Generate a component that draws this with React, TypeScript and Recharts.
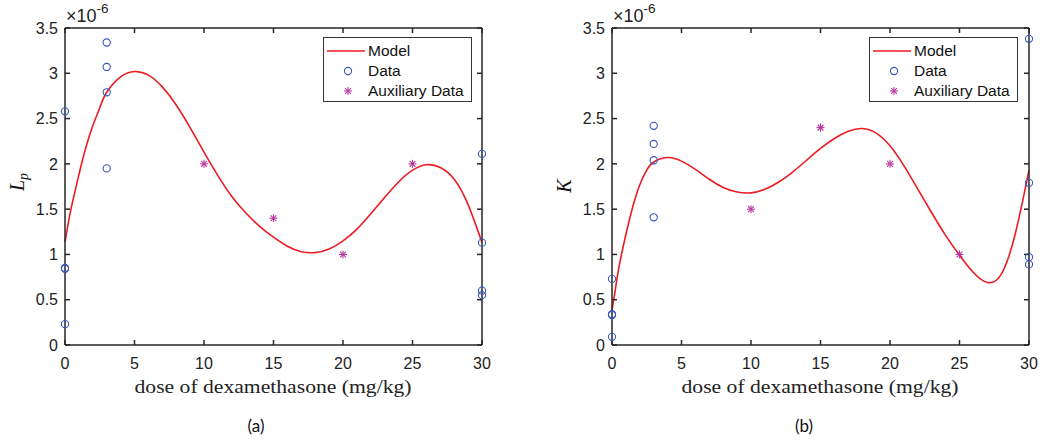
import React from 'react'
import { ComposedChart, Line, Scatter, XAxis, YAxis, Legend } from 'recharts'

// model curves (values in units of 1e-6)
const modelDose = [0, 0.25, 0.5, 1, 1.5, 2, 2.5, 3, 4, 5, 6, 7, 8, 9, 10, 11, 12, 13, 14, 15, 16, 17, 18, 19, 20, 21, 22, 23, 24, 25, 26, 27, 28, 29, 30]
const lpModel = [1.14, 1.36, 1.55, 1.88, 2.18, 2.42, 2.62, 2.79, 2.96, 3.02, 2.98, 2.85, 2.65, 2.4, 2.13, 1.87, 1.64, 1.46, 1.31, 1.19, 1.09, 1.03, 1.02, 1.06, 1.15, 1.28, 1.45, 1.63, 1.8, 1.93, 1.99, 1.96, 1.83, 1.55, 1.13]
const kModel = [0.39, 0.62, 0.86, 1.22, 1.53, 1.77, 1.93, 2.02, 2.07, 2.03, 1.94, 1.83, 1.74, 1.69, 1.68, 1.72, 1.8, 1.91, 2.04, 2.17, 2.28, 2.36, 2.39, 2.34, 2.2, 1.98, 1.72, 1.46, 1.21, 0.99, 0.8, 0.69, 0.78, 1.22, 1.93]

// measured data
const dataDose = [0, 0, 0, 0, 3, 3, 3, 3, 30, 30, 30, 30]
const lpData = [2.58, 0.85, 0.84, 0.23, 3.34, 3.07, 2.79, 1.95, 2.11, 1.13, 0.6, 0.55]
const kData = [0.73, 0.34, 0.33, 0.09, 2.42, 2.22, 2.04, 1.41, 3.38, 1.79, 0.97, 0.89]

// auxiliary data
const auxDose = [10, 15, 20, 25]
const lpAux = [2.0, 1.4, 1.0, 2.0]
const kAux = [1.5, 2.4, 2.0, 1.0]

const xTicks = [0, 5, 10, 15, 20, 25, 30]
const yTicks = [0, 0.5, 1, 1.5, 2, 2.5, 3, 3.5]

const RED = '#ec1c24'
const BLUE = '#3656b8'
const MAGENTA = '#b8369f'
const AXIS = '#262626'
const SANS = '"Liberation Sans", Arial, sans-serif'
const SERIF = '"Liberation Serif", "Times New Roman", serif'

const zip = (xs: number[], ys: number[]) => xs.map((x, i) => ({ x, y: ys[i] }))

const Circle = (p: any) => <circle cx={p.cx} cy={p.cy} r={3.6} fill="none" stroke={BLUE} strokeWidth={1.1} />

const Star = (p: any) => {
  const r = 4
  const d = r * 0.72
  return (
    <g stroke={MAGENTA} strokeWidth={1.1}>
      <line x1={p.cx - r} y1={p.cy} x2={p.cx + r} y2={p.cy} />
      <line x1={p.cx} y1={p.cy - r} x2={p.cx} y2={p.cy + r} />
      <line x1={p.cx - d} y1={p.cy - d} x2={p.cx + d} y2={p.cy + d} />
      <line x1={p.cx - d} y1={p.cy + d} x2={p.cx + d} y2={p.cy - d} />
    </g>
  )
}

const LegendBox = () => (
  <div style={{ width: 147, height: 63, border: '1px solid #333', background: '#fff', fontFamily: SANS, fontSize: 15.5, color: '#111', position: 'relative' }}>
    {['Model', 'Data', 'Auxiliary Data'].map((name, i) => (
      <div key={name} style={{ position: 'absolute', left: 0, top: 3 + i * 20, height: 20, display: 'flex', alignItems: 'center' }}>
        <svg width={44} height={20}>
          {i === 0 && <line x1={3} y1={10} x2={41} y2={10} stroke={RED} strokeWidth={1.6} />}
          {i === 1 && <Circle cx={24} cy={10} />}
          {i === 2 && <Star cx={24} cy={10} />}
        </svg>
        <span>{name}</span>
      </div>
    ))}
  </div>
)

const tickStyle = { fontFamily: SANS, fontSize: 16, fill: '#222' }
const lineStyle = { stroke: AXIS, strokeWidth: 1.5 }
const noLabel = () => ''

function Panel({ left, model, data, aux, legendLeft }: { left: number; model: number[]; data: number[]; aux: number[]; legendLeft: number }) {
  return (
    <div style={{ position: 'absolute', left, top: 0 }}>
      <ComposedChart width={503} height={445} margin={{ top: 8, right: 1, left: 15, bottom: 60 }}>
        <XAxis xAxisId="bottom" orientation="bottom" type="number" dataKey="x" domain={[0, 30]} ticks={xTicks} height={40}
          tick={tickStyle} tickSize={-5} tickMargin={18} stroke={AXIS} axisLine={lineStyle} tickLine={lineStyle} />
        <XAxis xAxisId="top" orientation="top" type="number" dataKey="x" domain={[0, 30]} ticks={xTicks} height={20}
          tickSize={-5} tickFormatter={noLabel} stroke={AXIS} axisLine={lineStyle} tickLine={lineStyle} />
        <YAxis yAxisId="left" orientation="left" type="number" domain={[0, 3.5]} ticks={yTicks} width={50}
          tick={tickStyle} tickSize={-5} tickMargin={12} stroke={AXIS} axisLine={lineStyle} tickLine={lineStyle} />
        <YAxis yAxisId="right" orientation="right" type="number" domain={[0, 3.5]} ticks={yTicks} width={20}
          tickSize={-5} tickFormatter={noLabel} stroke={AXIS} axisLine={lineStyle} tickLine={lineStyle} />
        <Line xAxisId="bottom" yAxisId="left" data={zip(modelDose, model)} dataKey="y" type="natural" stroke={RED}
          strokeWidth={1.6} dot={false} isAnimationActive={false} name="Model" />
        <Scatter xAxisId="top" yAxisId="right" data={zip(dataDose, data)} dataKey="y" shape={Circle}
          isAnimationActive={false} name="Data" />
        <Scatter xAxisId="top" yAxisId="left" data={zip(auxDose, aux)} dataKey="y" shape={Star}
          isAnimationActive={false} name="Auxiliary Data" />
        <Legend layout="vertical" align="center" verticalAlign="middle" content={LegendBox}
          wrapperStyle={{ left: legendLeft, top: 37, width: 149, height: 65 }} />
      </ComposedChart>
    </div>
  )
}

export default function App() {
  return (
    <div style={{ position: 'absolute', left: 0, top: 0, width: 1049, height: 445, background: '#fff', overflow: 'hidden' }}>
      <Panel left={0} model={lpModel} data={lpData} aux={lpAux} legendLeft={323} />
      <Panel left={547} model={kModel} data={kData} aux={kAux} legendLeft={869 - 547} />
      <svg width={1049} height={445} style={{ position: 'absolute', left: 0, top: 0, pointerEvents: 'none' }}>
        {[65, 612].map((x0) => (
          <text key={x0} x={x0 + 1} y={22} fontFamily={SANS} fontSize={18} fill="#222">
            ×10<tspan dy={-9} fontSize={13.5}>-6</tspan>
          </text>
        ))}
        <text transform="translate(24,182) rotate(-90)" textAnchor="middle" fontFamily={SERIF} fontStyle="italic" fontSize={20} fill="#111">
          L<tspan dy={4} fontSize={14}>p</tspan>
        </text>
        <text transform="translate(571,186) rotate(-90)" textAnchor="middle" fontFamily={SERIF} fontStyle="italic" fontSize={20} fill="#111">
          K
        </text>
        {[273, 820].map((cx) => (
          <text key={cx} x={cx} y={393} textAnchor="middle" fontFamily={SERIF} fontSize={19} fill="#222"
            textLength={277} lengthAdjust="spacingAndGlyphs">
            dose of dexamethasone (mg/kg)
          </text>
        ))}
        <text x={256} y={432} textAnchor="middle" fontFamily="Lato, sans-serif" fontSize={17} fill="#111">(a)</text>
        <text x={804} y={432} textAnchor="middle" fontFamily="Lato, sans-serif" fontSize={17} fill="#111">(b)</text>
      </svg>
    </div>
  )
}
